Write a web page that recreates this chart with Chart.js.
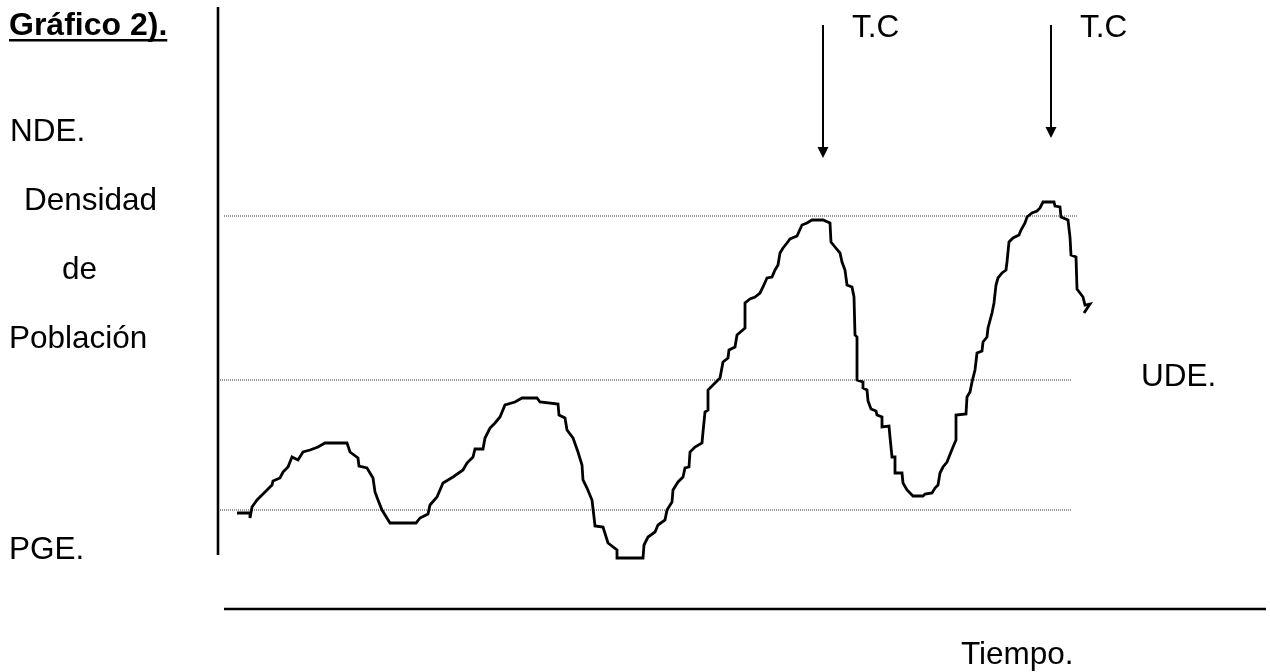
<!DOCTYPE html>
<html>
<head>
<meta charset="utf-8">
<title>Gráfico 2</title>
<script src="https://cdn.jsdelivr.net/npm/chart.js@4/dist/chart.umd.min.js"></script>
<style>
    body { margin: 0; background: #fff; }
    #wrap { width: 1270px; height: 672px; }
</style>
</head>
<body>
<div id="wrap"><canvas id="grafico" width="1270" height="672"></canvas></div>
<script>
// Tiempo (eje x) y densidad de población (eje y)
const tiempo = [1.9, 3.2, 3.2, 3.4, 3.9, 4.4, 4.9, 5.4, 5.5, 6.2, 6.5, 7.0, 7.4, 8.0, 8.5, 9.2, 10.0, 10.7, 12.9, 13.2,
    14.0, 14.1, 14.9, 15.5, 15.7, 16.0, 16.4, 17.2, 19.8, 20.2, 21.0, 21.2, 21.9, 22.5, 23.5, 24.5, 24.9, 25.5, 25.7, 26.5,
    26.7, 27.2, 27.7, 28.2, 28.7, 29.7, 30.4, 31.9, 32.2, 34.0, 34.1, 34.7, 34.9, 35.5, 36.0, 36.4, 36.5, 36.9, 37.4, 37.6,
    37.7, 38.5, 39.0, 39.9, 39.9, 42.5, 42.6, 43.0, 43.7, 44.0, 44.7, 44.9, 45.4, 45.5, 46.0, 46.5, 46.7, 47.1, 47.2, 47.7,
    48.4, 48.5, 48.7, 49.0, 49.0, 49.5, 50.2, 50.5, 51.0, 51.1, 51.7, 51.9, 52.7, 52.7, 53.2, 53.7, 54.2, 54.5, 54.9, 55.4,
    55.7, 56.0, 56.2, 56.5, 56.9, 57.2, 57.9, 58.4, 58.9, 59.4, 60.5, 61.2, 61.3, 61.7, 62.2, 62.4, 62.7, 62.9, 63.4, 63.6,
    63.7, 63.9, 63.9, 64.5, 64.5, 64.9, 65.0, 65.3, 65.8, 65.9, 66.4, 66.4, 67.1, 67.2, 67.4, 67.7, 67.7, 68.4, 68.5, 68.9,
    69.5, 70.5, 70.7, 71.4, 71.7, 72.0, 72.2, 72.5, 72.9, 73.1, 73.5, 73.8, 73.8, 74.8, 74.9, 75.2, 75.4, 75.7, 75.9, 76.4,
    76.5, 76.9, 77.0, 77.4, 77.6, 77.8, 78.0, 78.4, 78.8, 78.9, 79.1, 79.5, 80.1, 80.3, 80.7, 80.9, 81.4, 81.9, 82.2, 82.5,
    83.6, 83.7, 84.2, 84.3, 85.0, 85.2, 85.3, 85.8, 85.9, 86.5, 86.7, 87.2, 86.6];
const densidad = [9.6, 9.6, 9.1, 10.2, 10.9, 11.4, 11.9, 12.4, 12.8, 13.1, 13.7, 14.2, 15.2, 14.9, 15.7, 15.9, 16.2, 16.6, 16.6, 15.7,
    15.1, 14.3, 14.1, 13.1, 11.7, 10.9, 9.9, 8.6, 8.6, 9.1, 9.5, 10.4, 11.2, 12.6, 13.2, 13.9, 14.6, 15.2, 16.0, 16.0,
    17.1, 18.1, 18.6, 19.2, 20.4, 20.7, 21.1, 21.1, 20.7, 20.5, 19.4, 19.1, 17.9, 17.1, 15.7, 14.4, 12.9, 12.1, 10.9, 9.2,
    8.3, 8.2, 6.6, 5.9, 5.1, 5.1, 6.4, 7.2, 7.7, 8.4, 8.9, 9.9, 10.7, 11.9, 12.7, 13.2, 14.1, 14.2, 15.7, 16.2,
    16.6, 17.7, 19.7, 19.9, 21.9, 22.4, 23.1, 24.7, 25.1, 25.9, 26.2, 27.4, 28.1, 30.6, 31.0, 31.2, 31.6, 32.2, 33.1, 33.2,
    33.9, 34.4, 35.6, 36.1, 36.6, 37.0, 37.3, 38.4, 38.6, 38.9, 38.9, 38.6, 36.7, 36.2, 35.6, 34.7, 33.9, 32.4, 32.2, 31.2,
    27.4, 27.2, 22.9, 22.7, 22.1, 21.9, 20.8, 20.0, 19.8, 19.4, 19.2, 18.2, 18.3, 17.2, 15.2, 15.2, 13.6, 13.6, 12.6, 11.9,
    11.3, 11.3, 11.5, 11.6, 12.1, 12.4, 13.6, 14.2, 14.7, 15.2, 16.2, 16.9, 19.4, 19.5, 21.2, 21.7, 22.7, 23.9, 25.6, 25.8,
    26.7, 27.2, 28.1, 29.6, 30.6, 32.4, 33.1, 33.6, 33.9, 34.7, 36.7, 37.1, 37.4, 37.9, 38.6, 39.2, 39.6, 39.8, 40.1, 40.7,
    40.7, 40.3, 40.2, 39.2, 38.9, 37.2, 35.4, 35.2, 32.0, 31.2, 30.4, 30.5, 29.6];

// Niveles de referencia (líneas punteadas)
const nivelNombres = ['NDE.', 'UDE.', 'PGE.'];
const nivelValores = [39.3, 22.9, 9.9];
const nivelInicio = [0.6, 0.2, 0.2];
const nivelFin = [85.9, 85.3, 85.3];

// Flechas T.C (tiempo, desde, hasta)
const flechaTiempo = [60.5, 83.3];
const flechaDesde = [58.4, 58.4];
const flechaHasta = [45.1, 47.1];

const fuente = '31.5px "Liberation Sans", Arial, sans-serif';

const curva = tiempo.map((t, i) => ({ x: t, y: densidad[i] }));

const datasets = [{
    data: curva,
    borderColor: '#000',
    borderWidth: 2.8,
    pointRadius: 0,
    tension: 0,
    fill: false,
    borderJoinStyle: 'miter'
}];
nivelValores.forEach((v, i) => {
    datasets.push({
        data: [{ x: nivelInicio[i], y: v }, { x: nivelFin[i], y: v }],
        borderColor: '#333',
        borderWidth: 1,
        borderDash: [1, 1],
        pointRadius: 0,
        fill: false
    });
});

// Ejes, flechas y textos
const extras = {
    id: 'extras',
    afterDraw(chart) {
        const ctx = chart.ctx;
        const x = chart.scales.x, y = chart.scales.y;
        ctx.save();
        ctx.strokeStyle = '#000';
        ctx.fillStyle = '#000';
        ctx.lineWidth = 2.6;

        // eje vertical
        ctx.beginPath();
        ctx.moveTo(x.getPixelForValue(0), y.getPixelForValue(60.2));
        ctx.lineTo(x.getPixelForValue(0), y.getPixelForValue(5.4));
        ctx.stroke();
        // eje del tiempo
        ctx.beginPath();
        ctx.moveTo(x.getPixelForValue(0.6), y.getPixelForValue(0));
        ctx.lineTo(x.getPixelForValue(104.8), y.getPixelForValue(0));
        ctx.stroke();

        // flechas T.C
        ctx.lineWidth = 2;
        flechaTiempo.forEach((t, i) => {
            const px = x.getPixelForValue(t);
            const y0 = y.getPixelForValue(flechaDesde[i]);
            const y1 = y.getPixelForValue(flechaHasta[i]);
            ctx.beginPath();
            ctx.moveTo(px, y0);
            ctx.lineTo(px, y1 - 10);
            ctx.stroke();
            ctx.beginPath();
            ctx.moveTo(px - 5.5, y1 - 11);
            ctx.lineTo(px + 5.5, y1 - 11);
            ctx.lineTo(px, y1);
            ctx.closePath();
            ctx.fill();
            ctx.font = fuente;
            ctx.textBaseline = 'alphabetic';
            ctx.fillText('T.C', px + 29, 37);
        });

        // textos
        ctx.font = 'bold 32px "Liberation Sans", Arial, sans-serif';
        ctx.fillText('Gráfico 2).', 9, 35);
        const w = ctx.measureText('Gráfico 2).').width;
        ctx.fillRect(9, 39, w, 2.5);

        ctx.font = fuente;
        ctx.fillText('NDE.', 10, 141);
        ctx.fillText('Densidad', 24, 210);
        ctx.fillText('de', 62, 279);
        ctx.fillText('Población', 9, 348);
        ctx.fillText('PGE.', 9, 559);
        ctx.fillText('UDE.', 1141, 386);
        ctx.fillText('Tiempo.', 961, 664);
        ctx.restore();
    }
};

new Chart(document.getElementById('grafico'), {
    type: 'line',
    data: { datasets: datasets },
    options: {
        responsive: false,
        animation: false,
        devicePixelRatio: 1,
        layout: { padding: { left: 218, right: 4, top: 7, bottom: 63 } },
        scales: {
            x: { type: 'linear', min: 0, max: 104.8, display: false },
            y: { min: 0, max: 60.2, display: false }
        },
        plugins: { legend: { display: false }, tooltip: { enabled: false } },
        elements: { line: { capBezierPoints: false } },
        clip: false
    },
    plugins: [extras]
});
</script>
</body>
</html>
